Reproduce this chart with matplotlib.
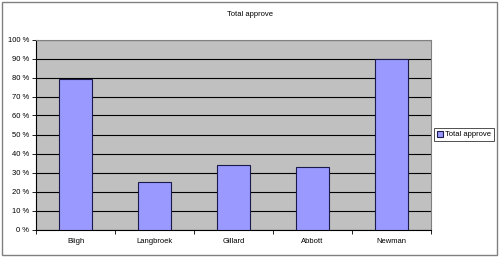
import matplotlib
matplotlib.use('Agg')
import matplotlib.pyplot as plt
from matplotlib.ticker import FixedLocator, NullFormatter

categories = ['Bligh', 'Langbroek', 'Gillard', 'Abbott', 'Newman']
total_approve = [79, 25, 34, 33, 90]
y_ticks = list(range(0, 101, 10))
y_tick_labels = ['%d %%' % v for v in y_ticks]

plt.rcParams['font.family'] = ['Liberation Sans', 'DejaVu Sans']

fig = plt.figure(figsize=(5.0, 2.57), dpi=100)
fig.patch.set_facecolor('white')
fig.patches.append(plt.Rectangle((0.004, 0.006), 0.99, 0.988, transform=fig.transFigure,
                                 fill=False, edgecolor='#808080', linewidth=1.0))

# plot area in pixel terms: x 36..431, y 39..229 of a 500x257 image
ax = fig.add_axes([36 / 500, 1 - 229.5 / 257, 395 / 500, 190 / 257])
ax.set_facecolor('#C0C0C0')

x = list(range(len(categories)))
ax.bar(x, total_approve, width=0.41, color='#9999FF', edgecolor='#1a1a4d',
       linewidth=0.8, zorder=3, label='Total approve')

ax.set_xlim(-0.5, len(categories) - 0.5)
ax.set_ylim(0, 100)
ax.set_yticks(y_ticks)
ax.set_yticklabels(y_tick_labels, fontsize=5.5)
ax.yaxis.grid(True, color='black', linewidth=0.8, zorder=1)
ax.set_axisbelow(True)

ax.set_xticks(x)
ax.set_xticklabels(categories, fontsize=5.5)
ax.tick_params(axis='x', which='major', length=0, pad=6)
ax.xaxis.set_minor_locator(FixedLocator([i + 0.5 for i in range(-1, len(categories))]))
ax.xaxis.set_minor_formatter(NullFormatter())
ax.tick_params(axis='x', which='minor', length=3, width=0.6, direction='out')
ax.tick_params(axis='y', length=3, width=0.6, direction='out', pad=2)

for side in ['top', 'right']:
    ax.spines[side].set_color('#808080')
    ax.spines[side].set_linewidth(0.8)
for side in ['left', 'bottom']:
    ax.spines[side].set_color('black')
    ax.spines[side].set_linewidth(0.8)

fig.text(0.5, 1 - 14 / 257, 'Total approve', ha='center', va='center', fontsize=5.5)

leg = fig.legend(loc='center', bbox_to_anchor=(464 / 500, 1 - 134.5 / 257), fontsize=5.5,
                 frameon=True, fancybox=False, handlelength=0.8, handleheight=0.8,
                 handletextpad=0.3, borderpad=0.35, borderaxespad=0)
leg.get_frame().set_edgecolor('black')
leg.get_frame().set_linewidth(0.6)

fig.savefig('out.png', dpi=100)
